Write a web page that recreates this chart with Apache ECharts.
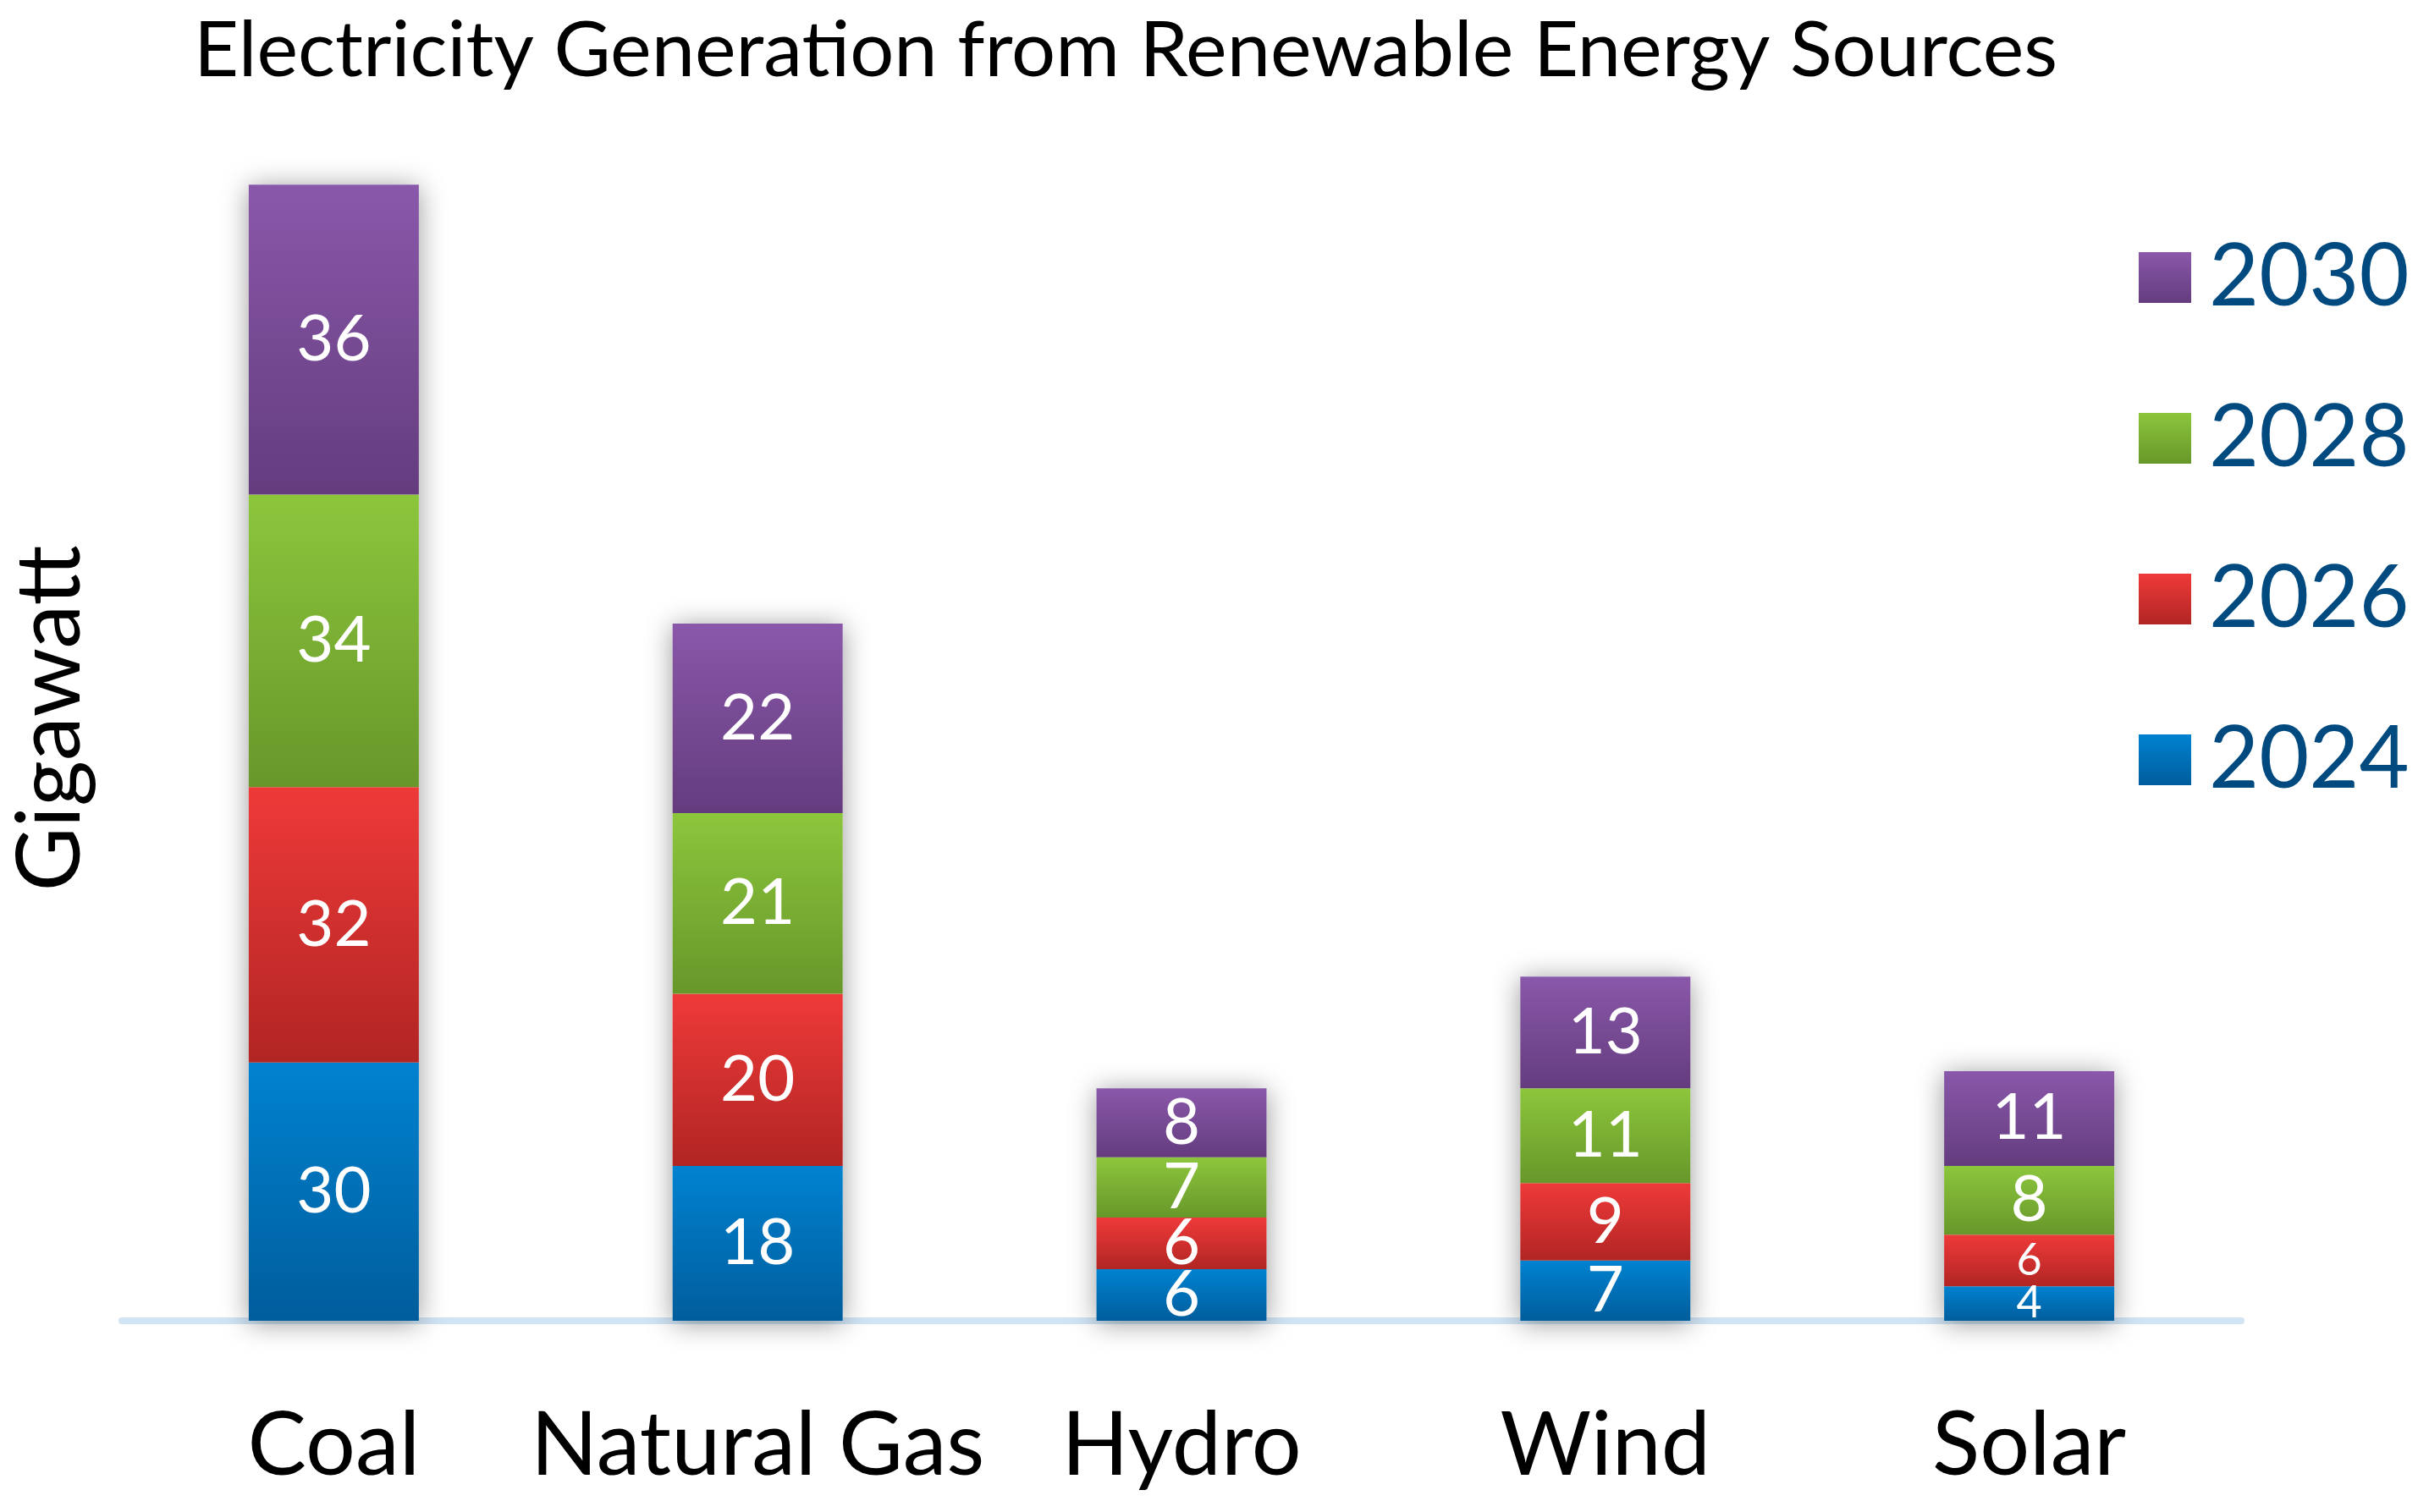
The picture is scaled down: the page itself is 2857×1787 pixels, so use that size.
<!DOCTYPE html>
<html>
<head>
<meta charset="utf-8">
<script src="https://cdn.jsdelivr.net/npm/echarts@6/dist/echarts.min.js"></script>
<style>
html,body{margin:0;padding:0;background:#fff;}
#chart{width:2857px;height:1787px;}
</style>
</head>
<body>
<div id="chart"></div>
<script>
const categories = ['Coal', 'Natural Gas', 'Hydro', 'Wind', 'Solar'];
const years = ['2024', '2026', '2028', '2030'];
const v2024 = [30, 18, 6, 7, 4];
const v2026 = [32, 20, 6, 9, 6];
const v2028 = [34, 21, 7, 11, 8];
const v2030 = [36, 22, 8, 13, 11];
const legendOrder = ['2030', '2028', '2026', '2024'];

const values = { '2024': v2024, '2026': v2026, '2028': v2028, '2030': v2030 };
const gradients = {
  '2024': ['#0182d0', '#005d9c'],
  '2026': ['#ee3a39', '#b12523'],
  '2028': ['#8cc63c', '#67972a'],
  '2030': ['#8a58aa', '#643c7e']
};
// labels drawn smaller in the reference (series -> category indices)
const smallLabelIdx = { '2024': [4], '2026': [4] };

const FONT = 'Lato, "Noto Sans", sans-serif';
const totals = categories.map((_, i) => years.reduce((s, y) => s + values[y][i], 0));

const grad = (c) => new echarts.graphic.LinearGradient(0, 0, 0, 1, [
  { offset: 0, color: c[0] }, { offset: 1, color: c[1] }
]);

const series = [{
  name: 'shadow',
  type: 'bar',
  data: totals,
  barWidth: 201,
  barGap: '-100%',
  z: 1,
  silent: true,
  itemStyle: { color: '#ffffff', shadowBlur: 30, shadowColor: 'rgba(0,0,0,0.4)', shadowOffsetY: 3 },
  label: { show: false }
}];
years.forEach(y => {
  const small = smallLabelIdx[y] || [];
  series.push({
    name: y,
    type: 'bar',
    stack: 'total',
    barWidth: 201,
    barGap: '-100%',
    z: 3,
    itemStyle: { color: grad(gradients[y]) },
    label: {
      show: true,
      position: 'inside',
      color: '#ffffff',
      fontFamily: FONT,
      fontSize: 76
    },
    data: values[y].map((v, i) => small.includes(i)
      ? { value: v, label: { fontSize: 52 } }
      : v)
  });
});

const chart = echarts.init(document.getElementById('chart'));
chart.setOption({
  animation: false,
  backgroundColor: '#ffffff',
  title: {
    text: 'Electricity Generation from Renewable Energy Sources',
    left: 224,
    top: 9,
    textStyle: { fontFamily: FONT, fontSize: 92, fontWeight: 'normal', color: '#000000' }
  },
  legend: {
    data: legendOrder,
    orient: 'vertical',
    left: 2522,
    top: 272,
    itemWidth: 62,
    itemHeight: 60,
    itemGap: 88,
    icon: 'rect',
    textStyle: { fontFamily: FONT, fontSize: 102, color: '#004a80', padding: [0, 0, 0, 16] }
  },
  grid: { left: 138, right: 209, top: 137, bottom: 226 },
  xAxis: {
    type: 'category',
    data: categories,
    axisLine: { show: true, lineStyle: { color: '#d0e4f4', width: 8 } },
    axisTick: { show: false },
    axisLabel: { interval: 0, fontFamily: FONT, fontSize: 104, color: '#000000', margin: 96 }
  },
  yAxis: {
    type: 'value',
    min: 0,
    max: 140,
    name: 'Gigawatt',
    nameLocation: 'middle',
    nameGap: 32,
    nameTextStyle: { fontFamily: FONT, fontSize: 104, color: '#000000' },
    axisLine: { show: false },
    axisTick: { show: false },
    axisLabel: { show: false },
    splitLine: { show: false }
  },
  series: series
});
</script>
</body>
</html>
